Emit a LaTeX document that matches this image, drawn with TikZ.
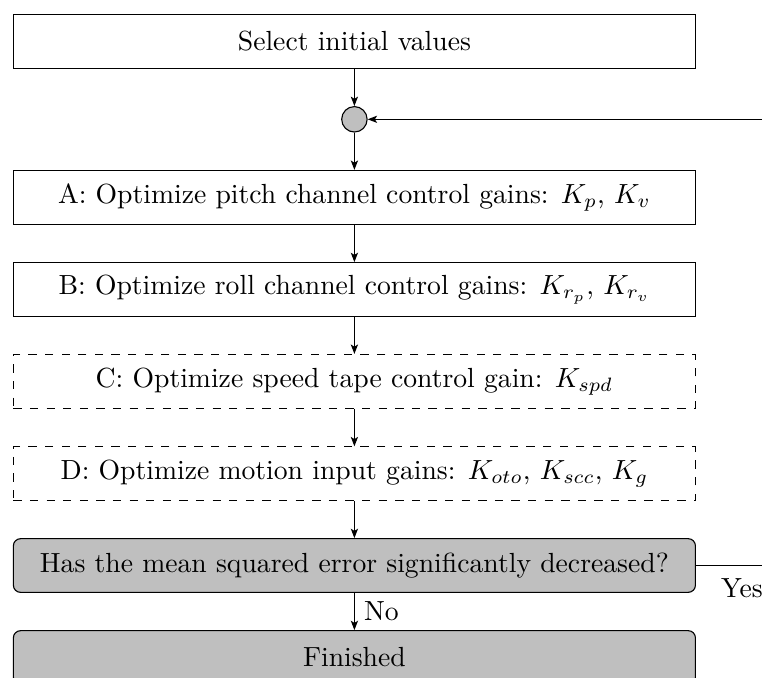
\documentclass[tikz,border=0pt]{standalone}
\usetikzlibrary{arrows.meta}
\begin{document}
\begin{tikzpicture}[x=0.3614pt,y=-0.3614pt,
  stepbox/.style={draw, rectangle, minimum width=246.5pt, minimum height=19.4pt, inner sep=0pt},
  optbox/.style={stepbox, dashed},
  testbox/.style={stepbox, rounded corners=2.6pt, fill=gray!50},
  junction/.style={draw, circle, fill=gray!50, minimum size=9.2pt, inner sep=0pt},
  flow/.style={-{Stealth[length=3.4pt,width=2.6pt,inset=0.8pt]}}]
\useasboundingbox (0,0) rectangle (762,677);

% process steps
\node[stepbox] (init) at (354.4,41.5) {Select initial values};
\node[junction] (join) at (354.4,119.3) {};
\node[stepbox] (pitch) at (354.4,197.3) {A: Optimize pitch channel control gains: $K_p$, $K_v$};
\node[stepbox] (roll) at (354.4,289.5) {B: Optimize roll channel control gains: $K_{r_p}$, $K_{r_v}$};
\node[optbox] (speed) at (354.4,381.3) {C: Optimize speed tape control gain: $K_{spd}$};
\node[optbox] (motion) at (354.4,473.7) {D: Optimize motion input gains: $K_{oto}$, $K_{scc}$, $K_g$};
\node[testbox] (check) at (354.4,565.5) {Has the mean squared error significantly decreased?};
\node[testbox] (done) at (354.4,657.5) {Finished};

% loop back to the junction
\coordinate (loopR) at (800,565.5);

% connectors
\draw[flow] (init) -- (join);
\draw[flow] (join) -- (pitch);
\draw[flow] (pitch) -- (roll);
\draw[flow] (roll) -- (speed);
\draw[flow] (speed) -- (motion);
\draw[flow] (motion) -- (check);
\draw[flow] (check) -- node[right] {No} (done);
\draw[flow] (check.east) -- (loopR) |- (join.east);
\node (yes) at (742,588) {Yes};
\end{tikzpicture}
\end{document}
